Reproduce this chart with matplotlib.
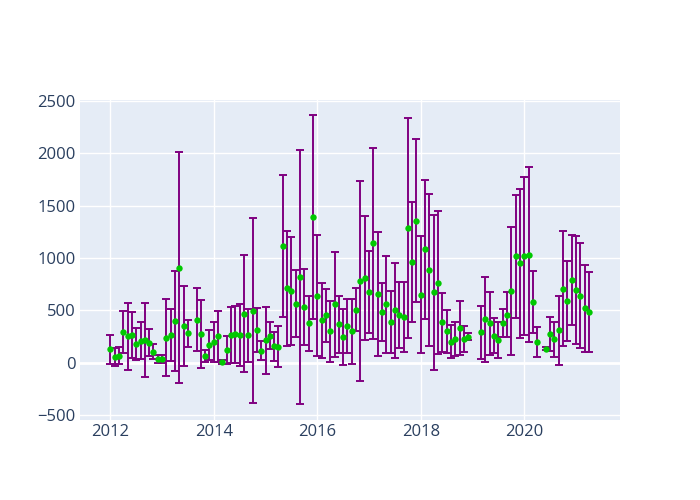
import matplotlib
matplotlib.use("Agg")
import matplotlib.pyplot as plt
import numpy as np

# month index (1 = Jan 2012), value, symmetric error
month_index = [1, 2, 3, 4, 5, 6, 7, 8, 9, 10, 11, 12, 13, 14, 15, 16, 17, 18, 19,
               21, 22, 23, 24, 25, 26, 27, 28, 29, 30, 31, 32, 33, 34, 35, 36, 37, 38, 39, 40,
               41, 42, 43, 44, 45, 46, 47, 48, 49, 50, 51, 52, 53, 54, 55, 56, 57, 58, 59, 60,
               61, 62, 63, 64, 65, 66, 67, 68, 69, 70, 71, 72, 73, 74, 75, 76, 77, 78, 79, 80,
               81, 82, 83, 84, 87, 88, 89, 90, 91, 92, 93, 94, 95, 96, 97, 98, 99, 100,
               102, 103, 104, 105, 106, 107, 108, 109, 110, 111, 112]
values = [130, 57, 70, 296, 254, 264, 178, 213, 223, 194, 108, 41, 41, 242, 270, 397, 906, 353, 283,
          410, 277, 67, 172, 197, 254, 13, 124, 264, 273, 270, 470, 264, 499, 315, 118, 216, 261, 159, 156,
          1113, 712, 687, 563, 820, 537, 378, 1389, 642, 407, 455, 302, 560, 369, 248, 353, 302, 509, 782, 807,
          677, 1141, 661, 486, 560, 391, 502, 455, 436, 1287, 963, 1354, 652, 1084, 887, 674, 766, 388, 302, 203,
          229, 331, 232, 251, 292, 416, 378, 261, 219, 378, 461, 687, 1017, 950, 1017, 1033, 579, 203,
          137, 277, 226, 312, 706, 591, 788, 693, 642, 521, 483]
errors = [135, 85, 83, 200, 320, 218, 152, 178, 353, 130, 73, 38, 38, 367, 247, 477, 1100, 385, 127,
          300, 320, 55, 140, 190, 240, 20, 133, 267, 273, 295, 557, 250, 880, 213, 92, 317, 130, 140, 192,
          677, 548, 512, 318, 1206, 361, 262, 970, 577, 355, 252, 293, 500, 272, 267, 256, 312, 203, 955, 590,
          390, 910, 590, 272, 462, 293, 450, 315, 335, 1050, 575, 775, 560, 663, 723, 737, 677, 283, 205, 160,
          165, 255, 125, 35, 252, 405, 300, 165, 168, 132, 213, 612, 585, 709, 752, 837, 296, 143,
          15, 159, 167, 329, 548, 377, 428, 515, 500, 415, 383]

x_ticks = [2012, 2014, 2016, 2018, 2020]
y_ticks = [-500, 0, 500, 1000, 1500, 2000, 2500]

x = 2012 + (np.array(month_index) - 1) / 12.0

plt.rcParams['font.family'] = ['Open Sans', 'DejaVu Sans']

fig = plt.figure(figsize=(7, 5), dpi=100)
ax = fig.add_axes([80 / 700, 80 / 500, 540 / 700, 320 / 500])
ax.set_facecolor('#E5ECF6')
for s in ax.spines.values():
    s.set_visible(False)

ax.set_xlim(2011.414, 2021.85)
ax.set_ylim(-543, 2505)
ax.set_xticks(x_ticks)
ax.set_xticklabels([str(t) for t in x_ticks])
ax.set_yticks(y_ticks)
ax.grid(True, color='white', linewidth=1.0)
ax.set_axisbelow(True)
ax.axhline(0, color='white', linewidth=2.0, zorder=0.5)
ax.tick_params(length=0, labelsize=12, labelcolor='#2a3f5f', pad=3)

ax.errorbar(x, values, yerr=errors, fmt='none', ecolor='#800080', elinewidth=1.4,
            capsize=2.8, capthick=1.4, zorder=2)
ax.plot(x, values, 'o', color='#00c800', markersize=4.6, markeredgewidth=0, zorder=3)

fig.savefig('out.png', dpi=100)
